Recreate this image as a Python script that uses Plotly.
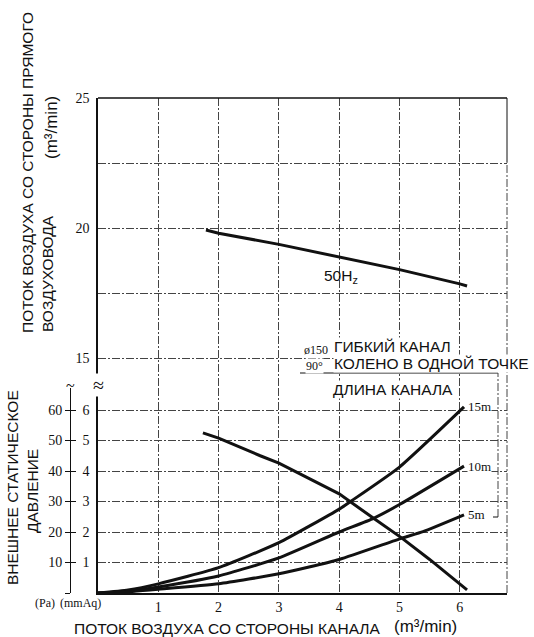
import plotly.graph_objects as go

# Fan performance: airflow on the straight-duct side (upper panel)
flow_x_50hz = [1.79, 2.0, 3.0, 4.0, 5.0, 6.0, 6.12]
flow_q_50hz = [19.92, 19.8, 19.37, 18.88, 18.4, 17.85, 17.77]

# External static pressure vs duct-side airflow (lower panel), Pa
fan_x = [1.74, 2.0, 2.69, 3.0, 4.0, 4.18, 4.57, 5.04, 5.5, 6.12]
fan_p = [52.5, 50.8, 45.0, 42.6, 32.5, 29.9, 24.5, 18.0, 11.0, 1.0]

duct_x_15m = [0.0, 0.5, 1.0, 2.0, 3.0, 4.0, 4.18, 5.0, 6.07]
duct_p_15m = [0.0, 1.0, 3.0, 8.3, 16.5, 27.5, 29.9, 41.3, 61.0]

duct_x_10m = [0.0, 0.5, 1.0, 2.0, 3.0, 4.0, 4.57, 5.0, 6.07]
duct_p_10m = [0.0, 0.6, 2.0, 5.6, 11.5, 20.0, 24.5, 29.0, 41.6]

duct_x_5m = [0.0, 0.5, 1.0, 2.0, 3.0, 4.0, 5.04, 5.39, 6.07]
duct_p_5m = [0.0, 0.4, 1.2, 3.0, 6.3, 11.0, 18.0, 20.1, 25.6]

x_ticks = [1, 2, 3, 4, 5, 6]
q_ticks = [15, 20, 25]
q_minor = [17.5, 22.5]
pa_ticks = [10, 20, 30, 40, 50, 60]
pa_labels = ["10", "20", "30", "40", "50", "60"]
mmaq_ticks = [10, 20, 30, 40, 50, 60]
mmaq_labels = ["1", "2", "3", "4", "5", "6"]

W_FIG, H_FIG = 534, 637
L, R, T, B = 60, 27, 98, 44
PW = W_FIG - L - R
PH = H_FIG - T - B
X0 = (98 - L) / PW          # left edge of the grid in paper units
SPLIT = (593 - 388) / PH    # boundary between the two panels

SANS = "Liberation Sans, Arial, sans-serif"
SERIF = "Liberation Serif, Times New Roman, serif"
INK = "#111111"
GRID = "#444444"
GDASH = "8px,2px,2px,2px"


def px(xp):
    return (xp - L) / PW


def py(yp):
    return (H_FIG - B - yp) / PH


fig = go.Figure()

straight = dict(color=INK, width=3)
curved = dict(color=INK, width=3, shape="spline", smoothing=0.5)
fig.add_trace(go.Scatter(x=flow_x_50hz, y=flow_q_50hz, mode="lines",
                         line=straight, xaxis="x", yaxis="y2",
                         hoverinfo="skip"))
fig.add_trace(go.Scatter(x=fan_x, y=fan_p, mode="lines", line=straight,
                         xaxis="x", yaxis="y", hoverinfo="skip"))
for xs, ys in [(duct_x_15m, duct_p_15m), (duct_x_10m, duct_p_10m),
               (duct_x_5m, duct_p_5m)]:
    fig.add_trace(go.Scatter(x=xs, y=ys, mode="lines", line=curved,
                             xaxis="x", yaxis="y", hoverinfo="skip"))

tick_font = dict(family=SERIF, size=14, color=INK)
PA_RANGE = [0, 205 / 3.05]

fig.update_layout(
    width=W_FIG, height=H_FIG,
    margin=dict(l=L, r=R, t=T, b=B),
    paper_bgcolor="white", plot_bgcolor="white",
    showlegend=False,
    xaxis=dict(domain=[X0, 1], range=[0, 409 / 60.3], anchor="y",
               tickvals=x_ticks, ticks="", tickfont=tick_font,
               showgrid=True, gridcolor=GRID, gridwidth=1, griddash=GDASH,
               showline=True, linecolor=INK, linewidth=1.5, zeroline=False),
    yaxis=dict(domain=[0, SPLIT], range=PA_RANGE, anchor="x",
               tickvals=mmaq_ticks, ticktext=mmaq_labels, ticks="",
               tickfont=tick_font, ticklabelstandoff=4,
               showgrid=True, gridcolor=GRID, gridwidth=1, griddash=GDASH,
               showline=True, linecolor=INK, linewidth=1.5, zeroline=False),
    yaxis2=dict(domain=[SPLIT, 1], range=[25 - 290 / 26, 25], anchor="x",
                tickvals=q_ticks, ticks="",
                tickfont=tick_font, ticklabelstandoff=4,
                showgrid=True, gridcolor=GRID, gridwidth=1, griddash=GDASH,
                minor=dict(tickvals=q_minor, showgrid=True, gridcolor=GRID,
                           gridwidth=1, griddash=GDASH, ticks=""),
                showline=True, linecolor=INK, linewidth=1.5, zeroline=False),
    # Pascal scale drawn as a separate axis with crossing ticks
    yaxis3=dict(overlaying="y", anchor="free", position=px(70), side="left",
                range=PA_RANGE, tickvals=pa_ticks, ticktext=pa_labels,
                ticks="outside", ticklen=5, tickcolor=INK, tickwidth=1,
                minor=dict(tickvals=[0], ticks="outside", ticklen=5,
                           tickcolor=INK, tickwidth=1, showgrid=False),
                tickfont=tick_font, showgrid=False, zeroline=False,
                showline=True, linecolor=INK, linewidth=1),
    yaxis4=dict(overlaying="y", anchor="free", position=px(70), side="left",
                range=PA_RANGE, tickvals=[0] + pa_ticks, showticklabels=False,
                ticks="inside", ticklen=5, tickcolor=INK, tickwidth=1,
                showgrid=False, zeroline=False, showline=False),
)
# empty traces so the overlaid axes render
fig.add_trace(go.Scatter(x=[None], y=[None], yaxis="y3", showlegend=False))
fig.add_trace(go.Scatter(x=[None], y=[None], yaxis="y4", showlegend=False))

# frame: solid top edge, dash-dot right edge
shapes = [
    dict(type="line", xref="paper", yref="paper", x0=X0, x1=1, y0=1, y1=1,
         line=dict(color=INK, width=1.5)),
    dict(type="line", xref="paper", yref="paper", x0=1, x1=1, y0=py(162), y1=1,
         line=dict(color=INK, width=1)),
    dict(type="line", xref="paper", yref="paper", x0=1, x1=1, y0=0, y1=py(162),
         line=dict(color=GRID, width=1, dash=GDASH)),
    # bracket around the duct-length labels
    dict(type="line", xref="paper", yref="paper", x0=px(300), x1=px(498),
         y0=py(373), y1=py(373), line=dict(color=INK, width=1)),
    dict(type="line", xref="paper", yref="paper", x0=px(498), x1=px(498),
         y0=py(517), y1=py(373), line=dict(color=GRID, width=1, dash=GDASH)),
    dict(type="line", xref="paper", yref="paper", x0=px(493), x1=px(498),
         y0=py(517), y1=py(517), line=dict(color=INK, width=1)),
]
fig.update_layout(shapes=shapes)

ann = []


def text(xp, yp, s, size=15.5, family=SANS, xanchor="center", yanchor="middle",
         angle=0, bg=None):
    d = dict(xref="paper", yref="paper", x=px(xp), y=py(yp), text=s,
             showarrow=False, xanchor=xanchor, yanchor=yanchor,
             textangle=angle, font=dict(family=family, size=size, color=INK))
    if bg:
        d["bgcolor"] = bg
        d["borderpad"] = 0
    ann.append(d)


# axis titles
text(27, 173, "ПОТОК ВОЗДУХА СО СТОРОНЫ ПРЯМОГО", angle=-90)
text(47, 274, "ВОЗДУХОВОДА", angle=-90)
text(52, 128, "(m³/min)", size=17, angle=-90)
text(12, 488, "ВНЕШНЕЕ СТАТИЧЕСКОЕ", angle=-90)
text(32, 491, "ДАВЛЕНИЕ", angle=-90)
text(72, 628, "ПОТОК ВОЗДУХА СО СТОРОНЫ КАНАЛА", xanchor="left")
text(392, 626, "(m³/min)", size=17, xanchor="left")
text(45, 603, "(Pa)", size=12, family=SERIF)
text(80, 603, "(mmAq)", size=12, family=SERIF)

# axis-break marks
text(98, 385, "≈", size=20, family=SERIF, bg="white")
text(70, 385, "~", size=16, family=SERIF)

# curve labels
ann.append(dict(xref="x", yref="y2", x=4.03, y=18.12, text="50H<sub>z</sub>",
                showarrow=False, font=dict(family=SANS, size=15.5, color=INK)))
for lbl, xs, ys in [("15m", duct_x_15m, duct_p_15m),
                    ("10m", duct_x_10m, duct_p_10m),
                    ("5m", duct_x_5m, duct_p_5m)]:
    ann.append(dict(xref="x", yref="y", x=xs[-1], y=ys[-1], text=lbl,
                    showarrow=False, xanchor="left", xshift=3,
                    bgcolor="white", borderpad=0,
                    font=dict(family=SERIF, size=13, color=INK)))

# duct description
text(303, 350, "ø150", size=12, family=SERIF, xanchor="left", bg="white")
text(305, 366, "90°", size=12, family=SERIF, xanchor="left", bg="white")
text(333, 346, "ГИБКИЙ КАНАЛ", xanchor="left", bg="white")
text(333, 363, "КОЛЕНО В ОДНОЙ ТОЧКЕ", xanchor="left", bg="white")
text(332, 389, "ДЛИНА КАНАЛА", xanchor="left", bg="white")

fig.update_layout(annotations=ann)
fig.write_html("out.html")
